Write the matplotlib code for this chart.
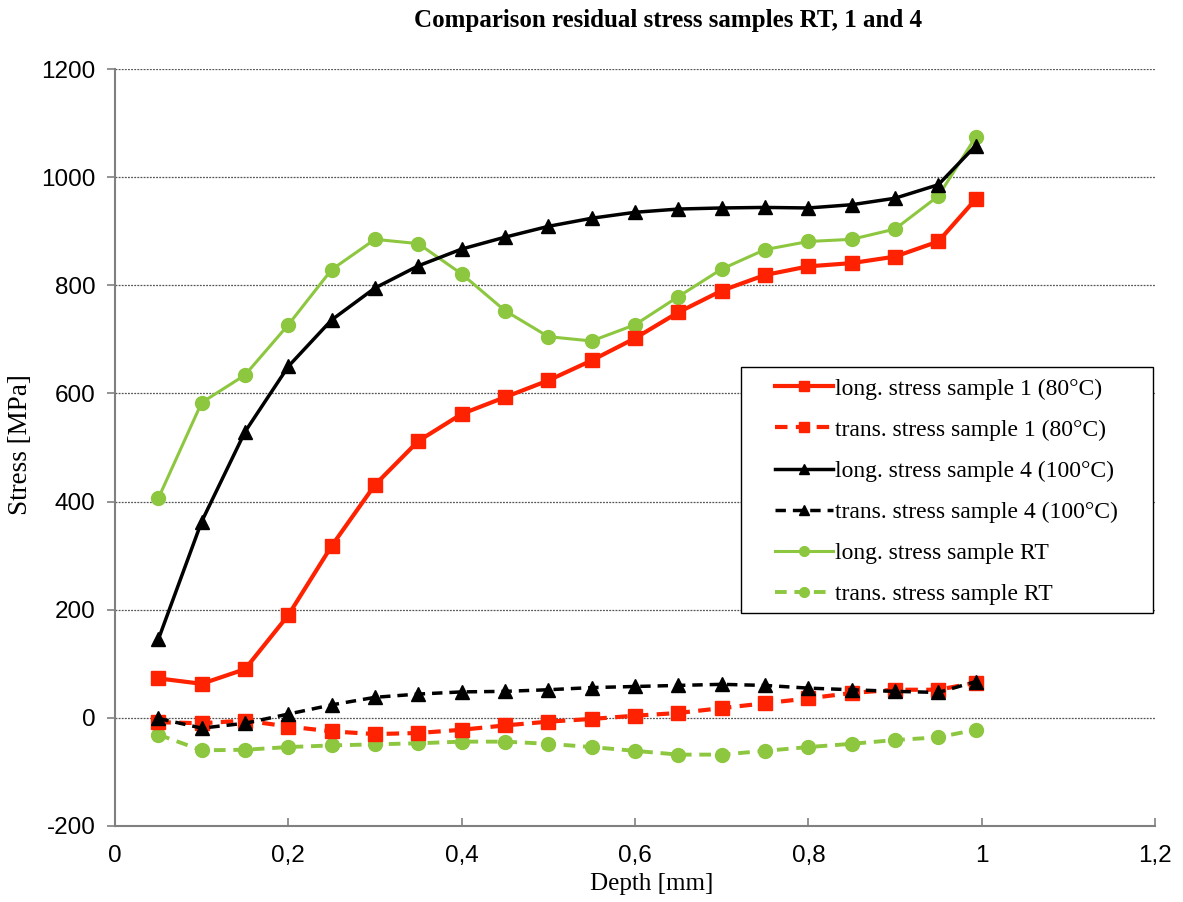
import matplotlib
matplotlib.use("Agg")
import matplotlib.pyplot as plt
from matplotlib.patches import Rectangle

plt.rcParams["axes.unicode_minus"] = False

depth = [0.05, 0.1, 0.15, 0.2, 0.25, 0.3, 0.35, 0.4, 0.45, 0.5,
         0.55, 0.6, 0.65, 0.7, 0.75, 0.8, 0.85, 0.9, 0.95, 0.993]

long_s1 = [73, 63, 90, 190, 318, 431, 512, 562, 593, 624,
           661, 702, 750, 790, 819, 835, 841, 853, 881, 959]
trans_s1 = [-8, -10, -5, -16, -25, -30, -28, -22, -14, -7,
            -2, 4, 9, 18, 27, 36, 46, 52, 52, 65]
long_s4 = [145, 363, 529, 650, 736, 795, 836, 867, 889, 909,
           924, 935, 941, 943, 944, 943, 949, 961, 986, 1058]
trans_s4 = [-1, -19, -10, 7, 24, 38, 44, 48, 49, 52,
            56, 58, 60, 62, 60, 55, 52, 49, 47, 67]
long_rt = [406, 583, 634, 727, 829, 885, 877, 821, 753, 705,
           697, 727, 779, 830, 866, 881, 885, 904, 965, 1074]
trans_rt = [-31, -60, -59, -54, -51, -49, -47, -44, -44, -48,
            -54, -61, -68, -68, -61, -54, -48, -41, -36, -22]

labels = ["long. stress sample 1 (80°C)", "trans. stress sample 1 (80°C)",
          "long. stress sample 4 (100°C)", "trans. stress sample 4 (100°C)",
          "long. stress sample RT", "trans. stress sample RT"]

red = "#FF2200"
green = "#8DC73F"
dash = (0, (3, 2))
W, H = 1183, 902

fig = plt.figure(figsize=(W / 100, H / 100), dpi=100)
ax = fig.add_axes([115 / W, 1 - 826 / H, 1040 / W, 757 / H])

ax.plot(depth, long_s1, color=red, lw=3, marker="s", ms=10, label=labels[0], zorder=3)
ax.plot(depth, trans_s1, color=red, lw=3, ls=dash, marker="s", ms=10, label=labels[1], zorder=3)
ax.plot(depth, long_s4, color="black", lw=2.5, marker="^", ms=10, label=labels[2], zorder=4)
ax.plot(depth, trans_s4, color="black", lw=2.5, ls=dash, marker="^", ms=10, label=labels[3], zorder=4)
ax.plot(depth, long_rt, color=green, lw=2.2, marker="o", ms=10, label=labels[4], zorder=2)
ax.plot(depth, trans_rt, color=green, lw=2.8, ls=dash, marker="o", ms=10, label=labels[5], zorder=2)

ax.set_xlim(0, 1.2)
ax.set_ylim(-200, 1200)
ax.set_xticks([0, 0.2, 0.4, 0.6, 0.8, 1.0, 1.2])
ax.set_xticklabels(["0", "0,2", "0,4", "0,6", "0,8", "1", "1,2"])
ax.set_yticks(range(-200, 1201, 200))

for y in range(0, 1201, 200):
    ax.axhline(y, color="#555555", lw=0.9, ls=(0, (1.5, 1)), zorder=1)

for s in ["top", "right"]:
    ax.spines[s].set_visible(False)
for s in ["left", "bottom"]:
    ax.spines[s].set_color("#808080")
    ax.spines[s].set_linewidth(1.5)

ax.tick_params(axis="x", direction="in", length=6, color="#808080", width=1.2,
               labelsize=17.5, pad=14)
ax.tick_params(axis="y", direction="out", length=6, color="#808080", width=1.2,
               labelsize=17.5, pad=8)
for t in ax.get_xticklabels() + ax.get_yticklabels():
    t.set_fontfamily("Liberation Sans")

fig.text(21 / W, 1 - 445 / H, "Stress [MPa]", rotation=90, ha="center", va="center",
         family="Liberation Serif", fontsize=19.5)
fig.text(652 / W, 1 - 884 / H, "Depth [mm]", ha="center", va="center",
         family="Liberation Serif", fontsize=18)
fig.text(668 / W, 1 - 21 / H, "Comparison residual stress samples RT, 1 and 4",
         ha="center", va="center", family="Liberation Serif", fontweight="bold", fontsize=18)

# legend box with white fill, drawn separately for the wide side padding
box = Rectangle((741 / W, 1 - 613 / H), 412 / W, 246 / H, transform=fig.transFigure,
                facecolor="white", edgecolor="black", lw=1.0, zorder=5, clip_on=False)
ax.add_patch(box)

leg = ax.legend(loc="upper left", bbox_to_anchor=(775 / W, 1 - 378 / H),
                bbox_transform=fig.transFigure,
                prop={"family": "Liberation Serif", "size": 17},
                frameon=False, handlelength=2.45, handletextpad=0.1,
                labelspacing=0.83, borderpad=0, borderaxespad=0, markerscale=0.7)
leg.set_zorder(6)

fig.savefig("out.png", dpi=100)
